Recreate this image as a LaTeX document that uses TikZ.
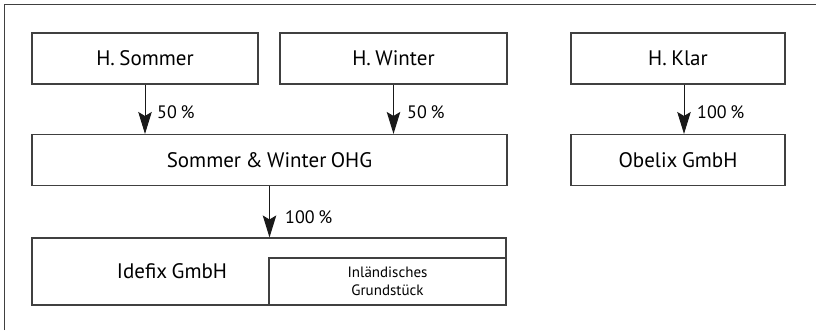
\documentclass[tikz,border=0pt]{standalone}
\usepackage{fontspec}
\setmainfont{PT Sans}[WordSpace=0.8]
\usetikzlibrary{arrows.meta}
\begin{document}
\begin{tikzpicture}[x=1pt,y=-1pt,
  box/.style={draw=black!75,line width=1.1pt,rectangle,inner sep=0pt,font=\fontsize{21}{23}\selectfont},
  lbl/.style={anchor=west,inner sep=0pt,font=\fontsize{18}{20}\selectfont},
  arr/.style={draw=black!90,line width=1pt,-{Stealth[length=22pt,width=13.5pt,inset=4pt]}}]
\useasboundingbox (0,0) rectangle (816,330);
% outer frame (left and top edges only visible)
\draw[black!75,line width=1.4pt] (4.5,330) -- (4.5,4.5) -- (816,4.5);
% boxes
\node[box,minimum width=226,minimum height=51] (sommer) at (145,58.5) {H. Sommer};
\node[box,minimum width=227,minimum height=51] (winter) at (393.5,58.5) {H. Winter};
\node[box,minimum width=214,minimum height=51] (klar) at (678,58.5) {H. Klar};
\node[box,minimum width=475,minimum height=51] (ohg) at (269.5,160) {Sommer \& Winter OHG};
\node[box,minimum width=214,minimum height=51] (obelix) at (678,160) {Obelix GmbH};
\node[box,minimum width=474,minimum height=67] (idefix) at (269,271.5) {};
\node[box,minimum width=237,minimum height=47,align=center,font=\fontsize{15}{18}\selectfont] (grund) at (387.5,281.5) {Inländisches\\Grundstück};
\node[font=\fontsize{21}{23}\selectfont,inner sep=0pt] (idefixtxt) at (172,271) {Idefix GmbH};
% arrows
\draw[arr] (sommer.south) -- (sommer.south |- ohg.north);
\draw[arr] (winter.south) -- (winter.south |- ohg.north);
\draw[arr] ([xshift=6]klar.south) -- ([xshift=6]obelix.north);
\draw[arr] (ohg.south) -- (ohg.south |- idefix.north);
% labels
\node[lbl] (l1) at (157,112) {50 \%};
\node[lbl] (l2) at (407,112) {50 \%};
\node[lbl] (l3) at (697,112) {100 \%};
\node[lbl] (l4) at (285,217) {100 \%};
\end{tikzpicture}
\end{document}
